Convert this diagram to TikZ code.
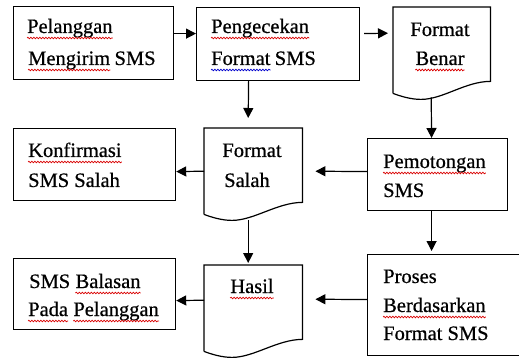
\documentclass[tikz,border=0pt]{standalone}
\usepackage{fontspec}
\setmainfont[FakeBold=0.6]{Liberation Serif}
\usetikzlibrary{arrows.meta,calc,decorations.pathmorphing}
\tikzset{
  ln/.style={line width=1.2pt, draw=black},
  box/.style={ln, rectangle, inner sep=0pt, anchor=north west},
  docnode/.style={rectangle, inner sep=0pt, anchor=north west, draw=none},
  arr/.style={ln, -{Triangle[length=10pt,width=10pt]}},
  txt/.style={inner sep=0pt, font=\fontsize{20.5}{24}\selectfont, anchor=base west},
  ctxt/.style={inner sep=0pt, font=\fontsize{20.5}{24}\selectfont, anchor=base},
  squig/.style={draw=red!85!black, line width=0.7pt, decorate,
    decoration={snake, amplitude=0.8pt, segment length=3pt}},
  squigb/.style={squig, draw=blue!80!black},
}
\newcommand{\docout}[1]{%
  \draw[ln] ($(#1.south west)+(0,12)$) -- (#1.north west) -- (#1.north east) -- (#1.south east)
    .. controls ($(#1.south east)+(-25,0)$) and ($(#1.south west)+(50,18)$) .. ($(#1.south west)+(28,18)$)
    .. controls ($(#1.south west)+(18,18)$) and ($(#1.south west)+(8,15)$) .. ($(#1.south west)+(0,12)$);}
\newcommand{\sqline}[2][squig]{\draw[#1] ([yshift=-5pt]#2.base west) -- ([yshift=-5pt]#2.base east);}
\begin{document}
\begin{tikzpicture}[x=1pt,y=-1pt]
\useasboundingbox (0,0) rectangle (519,358);
\clip (0,0) rectangle (519,358);
% boxes
\node[box, minimum width=160pt, minimum height=73pt] (b1) at (13,6) {};
\node[box, minimum width=163pt, minimum height=73pt] (b2) at (196,7) {};
\node[docnode, minimum width=97pt, minimum height=74pt] (fb) at (393,7) {};
\node[box, minimum width=162pt, minimum height=72pt] (kf) at (13,128) {};
\node[docnode, minimum width=98pt, minimum height=74pt] (fs) at (204,128) {};
\node[box, minimum width=140pt, minimum height=72pt] (pm) at (367,138) {};
\node[box, minimum width=162pt, minimum height=71pt] (sb) at (13,258) {};
\node[docnode, minimum width=98pt, minimum height=74pt] (hs) at (204,265) {};
\node[box, minimum width=155pt, minimum height=101pt] (pr) at (367,254) {};
\docout{fb}
\docout{fs}
\docout{hs}
% texts
\node[txt] (t1) at (27,33) {Pelanggan};
\node[txt] (t2) at (28,65) {Mengirim};
\node[txt] (t2b) at ([xshift=4pt]t2.base east) {SMS};
\node[txt] (t3) at (211,33) {Pengecekan};
\node[txt] (t4) at (211,65) {Format};
\node[txt] (t4b) at ([xshift=4pt]t4.base east) {SMS};
\node[ctxt] (t5) at (440,36) {Format};
\node[ctxt] (t6) at (440,65) {Benar};
\node[txt] (t7) at (28,157) {Konfirmasi};
\node[txt] (t8) at (28,187) {SMS Salah};
\node[ctxt] (t9) at (252,157) {Format};
\node[ctxt] (t10) at (247,187) {Salah};
\node[txt] (t11) at (383,168) {Pemotongan};
\node[txt] (t12) at (383,197) {SMS};
\node[txt] (t13) at (29,288) {SMS};
\node[txt] (t13b) at ([xshift=5pt]t13.base east) {Balasan};
\node[txt] (t14) at (28,316) {Pada};
\node[txt] (t14b) at ([xshift=5pt]t14.base east) {Pelanggan};
\node[ctxt] (t15) at (252,293) {Hasil};
\node[txt] (t16) at (383,283) {Proses};
\node[txt] (t17) at (383,312) {Berdasarkan};
\node[txt] (t18) at (383,340) {Format SMS};
% spell-check underlines
\sqline{t1}
\sqline{t2}
\sqline{t3}
\sqline[squigb]{t4}
\sqline{t6}
\sqline{t7}
\sqline{t11}
\sqline{t13b}
\sqline{t14}
\sqline{t14b}
\sqline{t15}
\sqline{t17}
% connectors
\draw[arr] ([yshift=9.5pt]b1.east) -- ([yshift=10.5pt]b2.west);
\draw[arr] ([xshift=4pt,yshift=10.5pt]b2.east) -- ([xshift=-5pt,yshift=11pt]fb.west);
\draw[arr] ([xshift=-29.5pt]b2.south) -- ([xshift=-5pt,yshift=10pt]fs.north);
\draw[arr] ([xshift=-10.5pt,yshift=-16pt]fb.south) -- ([xshift=-6pt]pm.north);
\draw[arr] ([yshift=3pt]pm.west) -- ([xshift=13pt,yshift=-6pt]fs.east);
\draw[arr] ([yshift=-6pt]fs.west) -- ([yshift=-7pt]kf.east);
\draw[arr] ([xshift=-5pt,yshift=-18pt]fs.south) -- ([xshift=-5pt,yshift=2pt]hs.north);
\draw[arr] ([xshift=-6pt]pm.south) -- ([xshift=-13.5pt,yshift=3pt]pr.north);
\draw[arr] ([yshift=5.5pt]pr.west) -- ([xshift=13pt,yshift=3pt]hs.east);
\draw[arr] ([yshift=2pt]hs.west) -- ([yshift=-6.5pt]sb.east);
\end{tikzpicture}
\end{document}
